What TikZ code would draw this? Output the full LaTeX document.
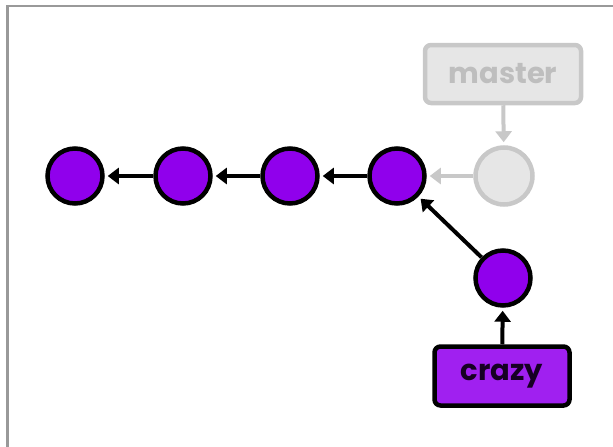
\documentclass[tikz,border=0pt]{standalone}
\usepackage{fontspec}
\setmainfont{Poppins}
\usetikzlibrary{arrows.meta}

\definecolor{commit}{HTML}{9000EC}
\definecolor{branchfill}{HTML}{A020F0}
\definecolor{ghost}{HTML}{C8C8C8}
\definecolor{ghosttext}{HTML}{BEBEBE}
\definecolor{ghostfill}{HTML}{E6E6E6}
\definecolor{frame}{HTML}{999999}

\tikzset{
  commitnode/.style={circle, draw=black, fill=commit, line width=4.5pt, minimum size=55pt},
  ghostnode/.style={circle, draw=ghost, fill=ghostfill, line width=4.5pt, minimum size=57pt},
  branchbox/.style={rectangle, rounded corners=6pt, line width=4.5pt, font=\bfseries\fontsize{29}{32}\selectfont},
  link/.style={line width=4pt, -{Triangle[width=16pt,length=11pt]}, shorten >=3pt}
}

\begin{document}
\begin{tikzpicture}[x=1pt,y=-1pt]
\useasboundingbox (0,0) rectangle (613,447);
\draw[frame, line width=2.5pt] (7.5,447) -- (7.5,6) -- (613,6);
\node[commitnode] (A) at (75,176)  {}; 
\node[commitnode] (B) at (183,176) {}; 
\node[commitnode] (C) at (290,176) {}; 
\node[commitnode] (D) at (397,176) {}; 
\node[ghostnode] (E) at (504,176) {}; 
\node[commitnode] (F) at (503,278) {}; 
\node[branchbox, draw=ghost, fill=ghostfill, text=ghosttext, minimum width=156pt, minimum height=58pt] (M) at (503,74) {master}; 
\node[branchbox, draw=black, fill=branchfill, text=black!85!commit, minimum width=135pt, minimum height=59pt] (Z) at (502,376) {crazy}; 
\draw[link] (B) -- (A);
\draw[link] (C) -- (B);
\draw[link] (D) -- (C);
\draw[link, ghost] (E) -- (D);
\draw[link, ghost] (M) -- (E);
\draw[link] (F) -- (D);
\draw[link] (Z) -- (F);
\end{tikzpicture}
\end{document}
